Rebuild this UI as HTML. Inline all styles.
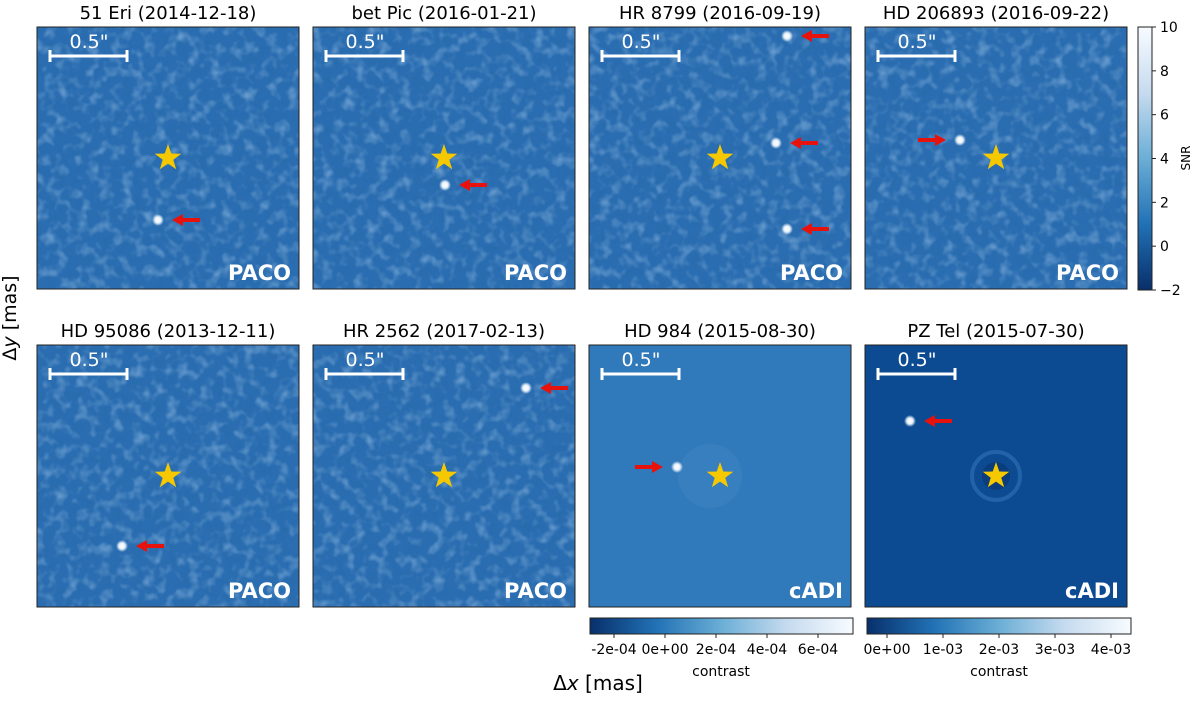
<!DOCTYPE html>
<html><head><meta charset="utf-8"><style>
body{margin:0;background:#fff;}
svg text{font-family:"DejaVu Sans","Liberation Sans",sans-serif;}
</style></head><body>
<svg id="fig" width="1200" height="696" viewBox="0 0 1200 696" xmlns="http://www.w3.org/2000/svg">
<defs>
<filter id="tex" x="0" y="0" width="100%" height="100%">
<feTurbulence type="fractalNoise" baseFrequency="0.09" numOctaves="2" seed="3"/>
<feColorMatrix type="matrix" values="0 0 0 0 0.55  0 0 0 0 0.75  0 0 0 0 0.95  0 0 0 1.6 -0.75"/>
</filter>
<filter id="tex2" x="0" y="0" width="100%" height="100%">
<feTurbulence type="fractalNoise" baseFrequency="0.09" numOctaves="2" seed="7"/>
<feColorMatrix type="matrix" values="0 0 0 0 0.02  0 0 0 0 0.15  0 0 0 0 0.4  0 0 0 1.6 -0.75"/>
</filter>
<linearGradient id="cbv" x1="0" y1="1" x2="0" y2="0">
<stop offset="0" stop-color="#08306b"/><stop offset="0.25" stop-color="#2171b5"/><stop offset="0.5" stop-color="#6baed6"/><stop offset="0.75" stop-color="#c6dbef"/><stop offset="1" stop-color="#f7fbff"/>
</linearGradient>
<linearGradient id="cbh" x1="0" y1="0" x2="1" y2="0">
<stop offset="0" stop-color="#08306b"/><stop offset="0.25" stop-color="#2171b5"/><stop offset="0.5" stop-color="#6baed6"/><stop offset="0.75" stop-color="#c6dbef"/><stop offset="1" stop-color="#f7fbff"/>
</linearGradient>
<radialGradient id="blob"><stop offset="0" stop-color="#fff"/><stop offset="0.5" stop-color="#e8f2fb"/><stop offset="1" stop-color="#e8f2fb" stop-opacity="0"/></radialGradient>
</defs>
<g id="panels"></g>
<text x="16" y="318" font-size="19" text-anchor="middle" transform="rotate(-90 16 318)">Δ<tspan font-style="italic">y</tspan> [mas]</text>
<text x="598" y="690" font-size="20" text-anchor="middle">Δ<tspan font-style="italic">x</tspan> [mas]</text>
<rect x="1138" y="27" width="14" height="263" fill="url(#cbv)" stroke="#222" stroke-width="1"/>
<text x="1190" y="158" font-size="12" text-anchor="middle" transform="rotate(-90 1190 158)">SNR</text>
<rect x="590" y="618" width="263" height="16" fill="url(#cbh)" stroke="#222"/>
<rect x="867" y="618" width="264" height="16" fill="url(#cbh)" stroke="#222"/>
<text x="721" y="676" font-size="14" text-anchor="middle">contrast</text>
<text x="999" y="676" font-size="14" text-anchor="middle">contrast</text>
</svg>
<script>
const snrTicks=[10,8,6,4,2,0,-2];
const c1Ticks=[-2e-4,0,2e-4,4e-4,6e-4];
const c1Labels=["-2e-04","0e+00","2e-04","4e-04","6e-04"];
const c2Ticks=[0,1e-3,2e-3,3e-3,4e-3];
const c2Labels=["0e+00","1e-03","2e-03","3e-03","4e-03"];
const titles=["51 Eri (2014-12-18)","bet Pic (2016-01-21)","HR 8799 (2016-09-19)","HD 206893 (2016-09-22)","HD 95086 (2013-12-11)","HR 2562 (2017-02-13)","HD 984 (2015-08-30)","PZ Tel (2015-07-30)"];
const methods=["PACO","PACO","PACO","PACO","PACO","PACO","cADI","cADI"];
const compDx=[[-10],[1],[67,56,67],[-36],[-46],[82],[-43],[-86]];
const compDy=[[62],[27],[-122,-15,71],[-18],[70],[-88],[-9],[-55]];
const compDir=[[1],[1],[1,1,1],[-1],[1],[1],[-1],[1]];
const NS="http://www.w3.org/2000/svg";
const svg=document.getElementById('fig');
const G=document.getElementById('panels');
function el(t,a,p){const e=document.createElementNS(NS,t);for(const k in a)e.setAttribute(k,a[k]);(p||G).appendChild(e);return e;}
const px=[37,313,589,865], py=[27,345], W=262;
function star(cx,cy,r){let pts=[];for(let i=0;i<10;i++){const rr=i%2?r*0.4:r;const a=-Math.PI/2+i*Math.PI/5;pts.push((cx+rr*Math.cos(a)).toFixed(1)+','+(cy+rr*Math.sin(a)).toFixed(1));}return pts.join(' ');}
titles.forEach((t,i)=>{
 const x=px[i%4], y=py[Math.floor(i/4)], cx=x+W/2, cy=y+W/2;
 const g=el('g',{});
 
 
 const base = i===6?'#3079bb':(i===7?'#0c4a92':'#2a6db1');
 el('rect',{x:x,y:y,width:W,height:W,fill:base},g);
 if(i<6){el('rect',{x:x,y:y,width:W,height:W,fill:'#fff',filter:'url(#tex)',opacity:0.6},g);
  el('rect',{x:x,y:y,width:W,height:W,fill:'#000',filter:'url(#tex2)',opacity:0.7},g);}
 if(i===6){el('circle',{cx:cx-10,cy:cy,r:32,fill:'#5d9bd0',opacity:0.18},g);}
 if(i===7){el('circle',{cx:cx,cy:cy,r:24,fill:'none',stroke:'#3e80c2',"stroke-width":4,opacity:0.45},g);el('circle',{cx:cx,cy:cy,r:14,fill:'#0a3d7c'},g);}
 el('rect',{x:x,y:y,width:W,height:W,fill:'none',stroke:'#222','stroke-width':1},g);
 const tt=el('text',{x:cx,y:y-8,'font-size':18,'text-anchor':'middle'},g);tt.textContent=t;
 
 
 const sb=el('line',{x1:x+13,x2:x+90,y1:y+29,y2:y+29,stroke:'#fff','stroke-width':3},g);
 
 
 el('line',{x1:x+13,x2:x+13,y1:y+23,y2:y+35,stroke:'#fff','stroke-width':3},g);
 el('line',{x1:x+90,x2:x+90,y1:y+23,y2:y+35,stroke:'#fff','stroke-width':3},g);
 const st=el('text',{x:x+52,y:y+21,'font-size':19,fill:'#fff','text-anchor':'middle'},g);st.textContent='0.5"';
 const sr=el('polygon',{points:star(cx,cy,14),fill:'#f5c800'},g);
 
 
 const m=el('text',{x:x+W-8,y:y+W-9,'font-size':21,'font-weight':'bold',fill:'#fff','text-anchor':'end'},g);m.textContent=methods[i];
 
 
 compDx[i].forEach((dx,j)=>{
  const bx=cx+dx, by=cy+compDy[i][j], d=compDir[i][j];
  const b=el('circle',{cx:bx,cy:by,r:6,fill:'url(#blob)'},g);
  
  
  const a0=bx+d*14, a1=bx+d*42;
  const ar=el('g',{},g);
  
  
  el('line',{x1:a1,y1:by,x2:a0+d*8,y2:by,stroke:'#e8120c','stroke-width':4},ar);
  el('polygon',{points:`${a0},${by} ${a0+d*11},${by-6} ${a0+d*11},${by+6}`,fill:'#e8120c'},ar);
 });
});
const sy=v=>290-(v+2)/12*263;
snrTicks.forEach(v=>{
 el('line',{x1:1152,x2:1156,y1:sy(v),y2:sy(v),stroke:'#222'},svg);
 const t=el('text',{x:1160,y:sy(v)+5,'font-size':14},svg);t.textContent=v<0?'\u2212'+(-v):v;
 
 
});
const c1x=v=>665+v/2e-4*51;
c1Ticks.forEach((v,k)=>{
 el('line',{x1:c1x(v),x2:c1x(v),y1:634,y2:638,stroke:'#222'},svg);
 const t=el('text',{x:c1x(v),y:654,'font-size':14,'text-anchor':'middle'},svg);t.textContent=c1Labels[k];
 
 
});
const c2x=v=>887+v/1e-3*56;
c2Ticks.forEach((v,k)=>{
 el('line',{x1:c2x(v),x2:c2x(v),y1:634,y2:638,stroke:'#222'},svg);
 const t=el('text',{x:c2x(v),y:654,'font-size':14,'text-anchor':'middle'},svg);t.textContent=c2Labels[k];
 
 
});
</script>
</body></html>
